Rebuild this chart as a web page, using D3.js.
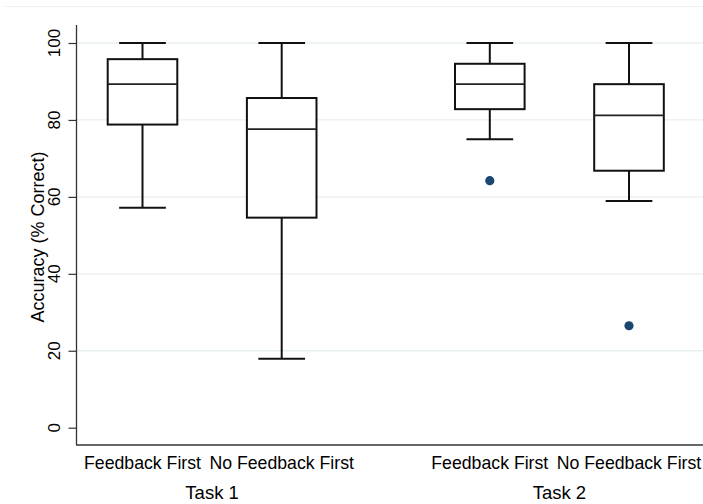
<!DOCTYPE html>
<html>
<head>
<meta charset="utf-8">
<script src="https://cdn.jsdelivr.net/npm/d3@7"></script>
<style>
    body { margin: 0; background: #fff; }
    text { font-family: "Liberation Sans", Arial, sans-serif; fill: #000; }
</style>
</head>
<body>
<div id="box-chart"></div>
<script>
// Data
const tasks = ["Task 1", "Task 2"];
const groups = ["Feedback First", "No Feedback First"];

// one entry per task x group, in order
const whiskerLow  = [57.2, 17.9, 75.0, 58.9];
const quartile1   = [78.8, 54.6, 82.8, 66.8];
const medians     = [89.3, 77.6, 89.3, 81.2];
const quartile3   = [95.8, 85.7, 94.6, 89.3];
const whiskerHigh = [100, 100, 100, 100];

// outside values: [box index, value]
const outliers = [[2, 64.2], [3, 26.5]];

const yTicks = [0, 20, 40, 60, 80, 100];

function createBoxChart() {
    const width = 703;
    const height = 504;

    const plot = { left: 77, right: 703, top: 25, bottom: 445 };

    const svg = d3.select("#box-chart").append("svg")
        .attr("width", width)
        .attr("height", height);

    // Scales
    const yScale = d3.scaleLinear()
        .domain([0, 100])
        .range([427.7, 43]);

    const xTask = d3.scalePoint()
        .domain(tasks)
        .range([212.1, 559.4]);

    const xGroup = d3.scalePoint()
        .domain(groups)
        .range([-69.6, 69.6]);

    const boxes = [];
    tasks.forEach((t, ti) => {
        groups.forEach((g, gi) => {
            const i = ti * groups.length + gi;
            boxes.push({
                task: t, group: g,
                lo: whiskerLow[i], q1: quartile1[i], med: medians[i],
                q3: quartile3[i], hi: whiskerHigh[i]
            });
        });
    });
    const cx = d => xTask(d.task) + xGroup(d.group);

    const boxW = 69.6;
    const capW = 46.7;

    // faint outer frame line at the top
    svg.append("line")
        .attr("x1", 4).attr("x2", width)
        .attr("y1", 6.5).attr("y2", 6.5)
        .attr("stroke", "#eef1f2")
        .attr("stroke-width", 1);

    // Gridlines (none at 0)
    svg.append("g")
        .selectAll("line")
        .data(yTicks.filter(d => d > 0))
        .join("line")
        .attr("x1", plot.left).attr("x2", plot.right)
        .attr("y1", d => yScale(d)).attr("y2", d => yScale(d))
        .attr("stroke", "#e8eff2")
        .attr("stroke-width", 1.3);

    // Y axis
    const yAxis = d3.axisLeft(yScale)
        .tickValues(yTicks)
        .tickSize(8)
        .tickFormat("");

    svg.append("g")
        .attr("transform", `translate(${plot.left - 0.5}, 0)`)
        .call(yAxis)
        .call(g => g.select(".domain").remove())
        .call(g => g.selectAll(".tick line").attr("stroke", "#333").attr("stroke-width", 1.2));

    svg.append("line")
        .attr("x1", plot.left - 0.5).attr("x2", plot.left - 0.5)
        .attr("y1", plot.top).attr("y2", plot.bottom)
        .attr("stroke", "#333").attr("stroke-width", 1.3);

    // Y tick labels, rotated like the reference
    svg.append("g")
        .selectAll("text")
        .data(yTicks)
        .join("text")
        .attr("x", 60)
        .attr("y", d => yScale(d))
        .attr("text-anchor", "middle")
        .attr("font-size", "17px")
        .attr("transform", d => `rotate(-90, 60, ${yScale(d)})`)
        .text(d => d);

    // Y axis title
    const yLabelX = 44;
    const yLabelY = 237;
    svg.append("text")
        .attr("x", yLabelX)
        .attr("y", yLabelY)
        .attr("text-anchor", "middle")
        .attr("font-size", "18px")
        .attr("transform", `rotate(-90, ${yLabelX}, ${yLabelY})`)
        .text("Accuracy (% Correct)");

    // X axis line
    svg.append("line")
        .attr("x1", plot.left - 1).attr("x2", plot.right)
        .attr("y1", plot.bottom).attr("y2", plot.bottom)
        .attr("stroke", "#333").attr("stroke-width", 1.3);

    // Boxes
    const g = svg.append("g").attr("class", "boxes");
    const stroke = "#111";
    const lw = 2;

    // whiskers
    g.selectAll(".whisker-hi")
        .data(boxes).join("line")
        .attr("x1", cx).attr("x2", cx)
        .attr("y1", d => yScale(d.q3)).attr("y2", d => yScale(d.hi))
        .attr("stroke", stroke).attr("stroke-width", lw);
    g.selectAll(".whisker-lo")
        .data(boxes).join("line")
        .attr("x1", cx).attr("x2", cx)
        .attr("y1", d => yScale(d.q1)).attr("y2", d => yScale(d.lo))
        .attr("stroke", stroke).attr("stroke-width", lw);

    // caps
    ["hi", "lo"].forEach(k => {
        g.selectAll(".cap-" + k)
            .data(boxes).join("line")
            .attr("x1", d => cx(d) - capW / 2).attr("x2", d => cx(d) + capW / 2)
            .attr("y1", d => yScale(d[k])).attr("y2", d => yScale(d[k]))
            .attr("stroke", stroke).attr("stroke-width", lw);
    });

    // box
    g.selectAll(".box")
        .data(boxes).join("rect")
        .attr("x", d => cx(d) - boxW / 2)
        .attr("y", d => yScale(d.q3))
        .attr("width", boxW)
        .attr("height", d => yScale(d.q1) - yScale(d.q3))
        .attr("fill", "#fff")
        .attr("stroke", stroke).attr("stroke-width", lw);

    // median
    g.selectAll(".median")
        .data(boxes).join("line")
        .attr("x1", d => cx(d) - boxW / 2).attr("x2", d => cx(d) + boxW / 2)
        .attr("y1", d => yScale(d.med)).attr("y2", d => yScale(d.med))
        .attr("stroke", "#222").attr("stroke-width", 1.8);

    // outside values
    g.selectAll(".outlier")
        .data(outliers).join("circle")
        .attr("cx", d => cx(boxes[d[0]]))
        .attr("cy", d => yScale(d[1]))
        .attr("r", 4.6)
        .attr("fill", "#1a476f");

    // Group labels under each box
    svg.append("g")
        .selectAll("text")
        .data(boxes).join("text")
        .attr("x", cx)
        .attr("y", 468.5)
        .attr("text-anchor", "middle")
        .attr("font-size", "17.7px")
        .text(d => d.group);

    // Task labels
    svg.append("g")
        .selectAll("text")
        .data(tasks).join("text")
        .attr("x", d => xTask(d))
        .attr("y", 499)
        .attr("text-anchor", "middle")
        .attr("font-size", "18.5px")
        .text(d => d);
}

createBoxChart();
</script>
</body>
</html>
